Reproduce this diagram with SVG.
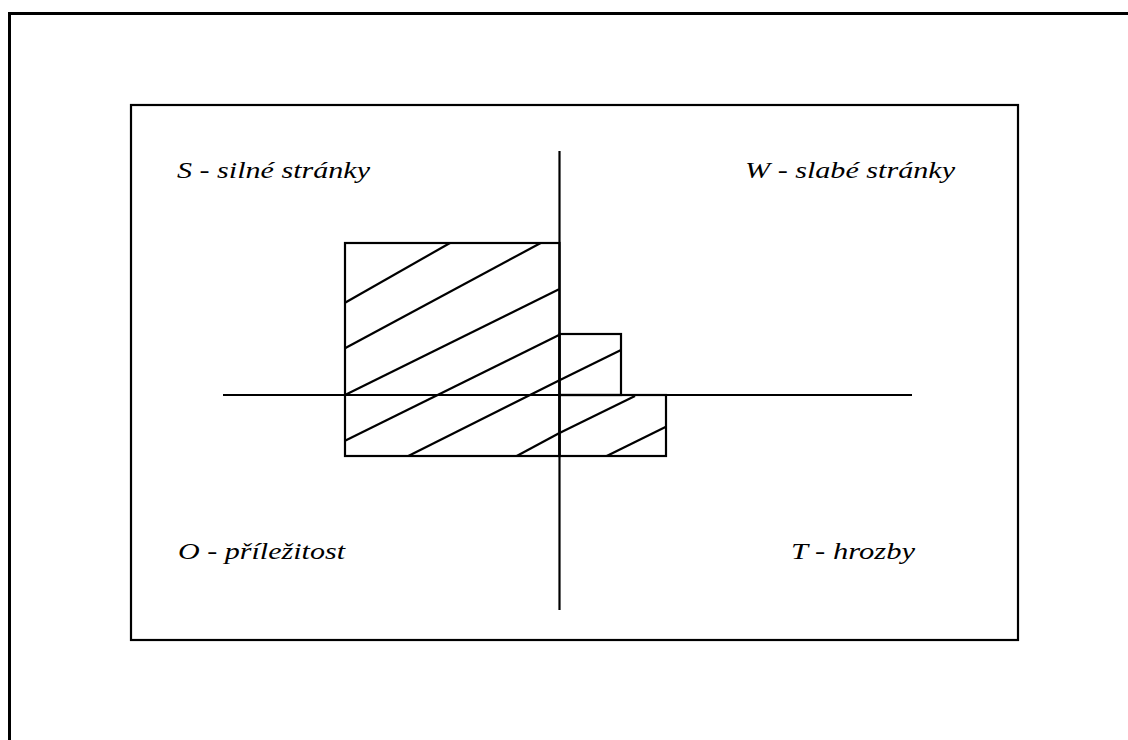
<svg xmlns="http://www.w3.org/2000/svg" width="1128" height="740" viewBox="0 0 1128 740">
<style>
.frame{fill:none;stroke:#000;stroke-width:3}
.box{fill:none;stroke:#000;stroke-width:2.2}
.ln{fill:none;stroke:#000;stroke-width:2.2;stroke-linecap:butt}
.lbl{font-family:"Liberation Serif","Times New Roman",serif;font-style:italic;font-size:23px;fill:#000}
</style>
<rect width="1128" height="740" fill="#fff"/>
<g id="outer-frame"><rect class="frame" x="9.5" y="13.5" width="1140" height="760"/></g>
<g id="inner-frame"><rect class="box" x="131" y="105" width="887" height="535"/></g>
<g id="connectors">
<line class="ln" x1="223" y1="395" x2="912" y2="395"/>
<line class="ln" x1="559.5" y1="151" x2="559.5" y2="610"/>
</g>
<g id="S-bar">
<rect class="box" x="345" y="243" width="214.5" height="213"/>
<polyline class="ln" points="345,302.7 450,243"/>
<polyline class="ln" points="345,348.3 540.7,243"/>
<polyline class="ln" points="345,395 559,289.3"/>
<polyline class="ln" points="345,440.7 559,335"/>
<polyline class="ln" points="408.3,456 559,380.5"/>
<polyline class="ln" points="516.7,456 559,433.3"/>
</g>
<g id="W-bar">
<rect class="box" x="559.5" y="334" width="61.5" height="61"/>
<polyline class="ln" points="559,380.5 621,350"/>
</g>
<g id="T-bar">
<rect class="box" x="559.5" y="395" width="106.5" height="61"/>
<polyline class="ln" points="559,433.3 635,396"/>
<polyline class="ln" points="606.7,456 666,426.7"/>
</g>
<g id="label-S"><text class="lbl" x="177" y="178" textLength="193" lengthAdjust="spacingAndGlyphs">S - silné stránky</text></g>
<g id="label-W"><text class="lbl" x="745" y="178" textLength="210" lengthAdjust="spacingAndGlyphs">W - slabé stránky</text></g>
<g id="label-O"><text class="lbl" x="178" y="559" textLength="167" lengthAdjust="spacingAndGlyphs">O - příležitost</text></g>
<g id="label-T"><text class="lbl" x="791" y="559" textLength="124" lengthAdjust="spacingAndGlyphs">T - hrozby</text></g>
</svg>
